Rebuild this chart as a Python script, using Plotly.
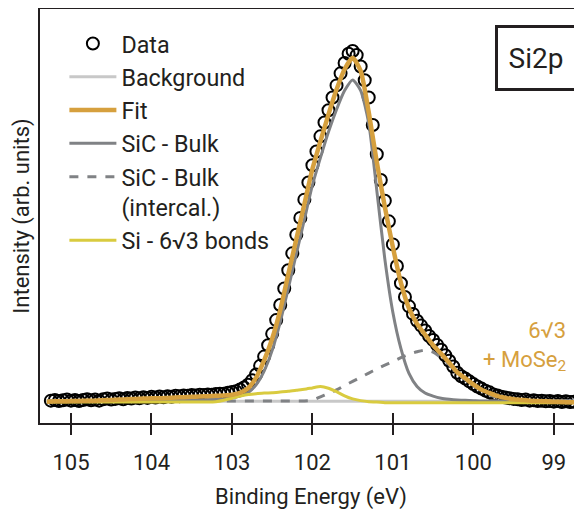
import plotly.graph_objects as go

# ---------------- data ----------------
# measured Si2p spectrum (binding energy in eV, intensity in arb. units)
data_energy = [
    105.25, 105.20, 105.15, 105.10, 105.05, 105.00, 104.95, 104.90, 104.85, 104.80,
    104.75, 104.70, 104.65, 104.60, 104.55, 104.50, 104.45, 104.40, 104.35, 104.30,
    104.25, 104.20, 104.15, 104.10, 104.05, 104.00, 103.95, 103.90, 103.85, 103.80,
    103.75, 103.70, 103.65, 103.60, 103.55, 103.50, 103.45, 103.40, 103.35, 103.30,
    103.25, 103.20, 103.15, 103.10, 103.05, 103.00, 102.95, 102.90, 102.85, 102.80,
    102.75, 102.70, 102.65, 102.60, 102.55, 102.50, 102.45, 102.40, 102.35, 102.30,
    102.25, 102.20, 102.15, 102.10, 102.05, 102.00, 101.95, 101.90, 101.85, 101.80,
    101.75, 101.70, 101.65, 101.60, 101.55, 101.50, 101.45, 101.40, 101.35, 101.30,
    101.25, 101.20, 101.15, 101.10, 101.05, 101.00, 100.95, 100.90, 100.85, 100.80,
    100.75, 100.70, 100.65, 100.60, 100.55, 100.50, 100.45, 100.40, 100.35, 100.30,
    100.25, 100.20, 100.15, 100.10, 100.05, 100.00, 99.95, 99.90, 99.85, 99.80,
    99.75, 99.70, 99.65, 99.60, 99.55, 99.50, 99.45, 99.40, 99.35, 99.30,
    99.25, 99.20, 99.15, 99.10, 99.05, 99.00, 98.95, 98.90, 98.85, 98.80,
    98.75,
]
data_intensity = [
    0.004, 0.006, 0.003, 0.005, 0.007, 0.004, 0.006, 0.003, 0.006, 0.008,
    0.005, 0.007, 0.004, 0.008, 0.010, 0.007, 0.009, 0.011, 0.008, 0.012,
    0.010, 0.013, 0.011, 0.014, 0.012, 0.015, 0.013, 0.016, 0.014, 0.017,
    0.015, 0.018, 0.017, 0.019, 0.018, 0.020, 0.019, 0.021, 0.020, 0.022,
    0.021, 0.023, 0.024, 0.024, 0.027, 0.029, 0.031, 0.036, 0.042, 0.050,
    0.063, 0.080, 0.105, 0.132, 0.165, 0.198, 0.238, 0.282, 0.330, 0.383,
    0.432, 0.486, 0.535, 0.588, 0.638, 0.688, 0.728, 0.772, 0.812, 0.848,
    0.885, 0.920, 0.955, 0.985, 1.012, 1.020, 1.008, 0.975, 0.935, 0.885,
    0.805, 0.720, 0.645, 0.585, 0.525, 0.458, 0.395, 0.345, 0.305, 0.278,
    0.256, 0.236, 0.222, 0.208, 0.192, 0.180, 0.166, 0.152, 0.136, 0.120,
    0.103, 0.085, 0.075, 0.068, 0.060, 0.052, 0.045, 0.039, 0.033, 0.028,
    0.022, 0.019, 0.015, 0.013, 0.011, 0.009, 0.008, 0.006, 0.007, 0.004,
    0.005, 0.003, 0.004, 0.002, 0.003, 0.001, 0.003, 0.000, 0.002, 0.000,
    0.001,
]

# fitted curves, on a 0.1 eV grid
model_energy = [
    105.3, 105.2, 105.1, 105.0, 104.9, 104.8, 104.7, 104.6, 104.5, 104.4,
    104.3, 104.2, 104.1, 104.0, 103.9, 103.8, 103.7, 103.6, 103.5, 103.4,
    103.3, 103.2, 103.1, 103.0, 102.9, 102.8, 102.7, 102.6, 102.5, 102.4,
    102.3, 102.2, 102.1, 102.0, 101.9, 101.8, 101.7, 101.6, 101.5, 101.4,
    101.3, 101.2, 101.1, 101.0, 100.9, 100.8, 100.7, 100.6, 100.5, 100.4,
    100.3, 100.2, 100.1, 100.0, 99.9, 99.8, 99.7, 99.6, 99.5, 99.4,
    99.3, 99.2, 99.1, 99.0, 98.9, 98.8, 98.7,
]
fit_total = [
    0.001, 0.002, 0.002, 0.003, 0.003, 0.004, 0.004, 0.005, 0.006, 0.007,
    0.008, 0.009, 0.010, 0.011, 0.011, 0.012, 0.013, 0.014, 0.015, 0.016,
    0.017, 0.018, 0.019, 0.021, 0.027, 0.040, 0.071, 0.121, 0.184, 0.267,
    0.371, 0.473, 0.575, 0.677, 0.758, 0.836, 0.908, 0.967, 1.000, 0.962,
    0.842, 0.697, 0.567, 0.450, 0.346, 0.272, 0.227, 0.196, 0.165, 0.140,
    0.114, 0.086, 0.069, 0.051, 0.036, 0.026, 0.017, 0.012, 0.008, 0.006,
    0.004, 0.003, 0.002, 0.001, 0.000, -0.001, -0.001,
]
sic_bulk = [
    0.003, 0.003, 0.003, 0.003, 0.003, 0.003, 0.003, 0.003, 0.004, 0.004,
    0.004, 0.004, 0.004, 0.005, 0.005, 0.005, 0.005, 0.006, 0.006, 0.006,
    0.007, 0.007, 0.009, 0.012, 0.017, 0.027, 0.050, 0.090, 0.150, 0.232,
    0.330, 0.430, 0.530, 0.630, 0.710, 0.785, 0.850, 0.905, 0.936, 0.905,
    0.810, 0.615, 0.415, 0.260, 0.155, 0.083, 0.045, 0.026, 0.017, 0.011,
    0.008, 0.006, 0.005, 0.004, 0.003, 0.003, 0.003, 0.003, 0.003, 0.003,
    0.003, 0.003, 0.003, 0.003, 0.003, 0.003, 0.003,
]
sic_bulk_intercal = [
    0.003, 0.003, 0.003, 0.003, 0.003, 0.003, 0.003, 0.003, 0.003, 0.003,
    0.003, 0.003, 0.003, 0.003, 0.003, 0.003, 0.003, 0.003, 0.003, 0.003,
    0.003, 0.003, 0.003, 0.003, 0.003, 0.003, 0.003, 0.003, 0.003, 0.003,
    0.003, 0.003, 0.003, 0.005, 0.015, 0.025, 0.035, 0.048, 0.060, 0.072,
    0.084, 0.096, 0.107, 0.118, 0.129, 0.139, 0.146, 0.151, 0.145, 0.129,
    0.108, 0.085, 0.064, 0.047, 0.033, 0.021, 0.013, 0.007, 0.004, 0.003,
    0.003, 0.003, 0.003, 0.003, 0.003, 0.003, 0.003,
]
si_6r3_bonds = [
    0.000, 0.000, 0.000, 0.000, 0.000, 0.000, 0.000, 0.000, 0.000, 0.000,
    0.000, 0.000, 0.000, 0.000, 0.000, 0.000, 0.000, 0.000, 0.000, 0.000,
    0.000, 0.001, 0.005, 0.011, 0.017, 0.022, 0.024, 0.026, 0.027, 0.029,
    0.031, 0.034, 0.037, 0.041, 0.045, 0.040, 0.030, 0.018, 0.009, 0.004,
    0.001, 0.000, -0.002, -0.002, -0.002, -0.002, -0.002, -0.002, -0.002, -0.002,
    -0.002, -0.002, -0.002, -0.002, -0.002, -0.002, -0.002, -0.002, -0.002, -0.002,
    -0.002, -0.002, -0.002, -0.002, -0.002, -0.002, -0.002,
]
background_energy = [105.3, 103.0, 101.5, 100.0, 98.7]
background = [0.002, 0.002, 0.002, 0.002, 0.002]

tick_values = [105, 104, 103, 102, 101, 100, 99]
tick_labels = ["105", "104", "103", "102", "101", "100", "99"]

x_range = [105.385, 98.65]
y_range = [-0.061, 1.142]

# ---------------- styles ----------------
FONT = "Roboto, 'Noto Sans', sans-serif"
INK = "#231F20"
C_BG = "#C8C8C8"
C_FIT = "#D6A03E"
C_SIC = "#808285"
C_SI = "#D9CB3F"
GOLD = "#D6A03E"

fig = go.Figure()

fig.add_trace(go.Scatter(
    x=data_energy, y=data_intensity, mode="markers", name="Data",
    marker=dict(symbol="circle-open", size=12, color="black",
                line=dict(width=2, color="black")),
    legendrank=1,
))
fig.add_trace(go.Scatter(
    x=background_energy, y=background, mode="lines", name="Background",
    line=dict(color=C_BG, width=3), legendrank=2,
))
fig.add_trace(go.Scatter(
    x=model_energy, y=sic_bulk, mode="lines", name="SiC - Bulk",
    line=dict(color=C_SIC, width=3, shape="spline", smoothing=0.6), legendrank=4,
))
fig.add_trace(go.Scatter(
    x=model_energy, y=sic_bulk_intercal, mode="lines", name="SiC - Bulk<br>(intercal.)",
    line=dict(color=C_SIC, width=3, dash="9px,9px", shape="spline", smoothing=0.6),
    legendrank=5,
))
fig.add_trace(go.Scatter(
    x=model_energy, y=si_6r3_bonds, mode="lines", name="Si - 6\u221a3 bonds",
    line=dict(color=C_SI, width=3, shape="spline", smoothing=0.6), legendrank=6,
))
fig.add_trace(go.Scatter(
    x=model_energy, y=fit_total, mode="lines", name="Fit",
    line=dict(color=C_FIT, width=4.5, shape="spline", smoothing=0.6), legendrank=3,
))
# helper trace so the overlaid axis (inward half of the ticks) is drawn
fig.add_trace(go.Scatter(
    x=tick_values, y=[None] * len(tick_values), xaxis="x2", mode="markers",
    showlegend=False, hoverinfo="skip",
))

# the page body adds an 8 px offset, so the figure is 8 px smaller and margins shifted
fig.update_layout(
    width=574, height=502,
    margin=dict(l=32, r=0, t=1, b=87, autoexpand=False),
    paper_bgcolor="white", plot_bgcolor="white",
    font=dict(family=FONT, size=22, color=INK),
    showlegend=True,
    legend=dict(
        x=0.045, y=0.969, xanchor="left", yanchor="top",
        bgcolor="rgba(0,0,0,0)", font=dict(family=FONT, size=23.3, color=INK),
        valign="top", tracegroupgap=0, itemwidth=47,
    ),
    xaxis=dict(
        range=x_range, tickvals=tick_values, ticktext=tick_labels,
        ticks="outside", ticklen=10, tickwidth=2, tickcolor=INK,
        showline=True, linewidth=2, linecolor=INK, mirror=True,
        showgrid=False, zeroline=False, ticklabelstandoff=9, automargin=False,
        tickfont=dict(family=FONT, size=22, color=INK),
        title=dict(text="Binding Energy (eV)", standoff=21,
                   font=dict(family=FONT, size=22, color=INK)),
    ),
    xaxis2=dict(
        range=x_range, overlaying="x", anchor="y", side="bottom",
        tickvals=tick_values, ticks="inside", ticklen=10, tickwidth=2,
        tickcolor=INK, showticklabels=False, showline=False,
        showgrid=False, zeroline=False, automargin=False,
    ),
    yaxis=dict(
        range=y_range, showticklabels=False, ticks="",
        showline=True, linewidth=2, linecolor=INK,
        showgrid=False, zeroline=False, automargin=False,
        title=dict(text="Intensity (arb. units)", standoff=2,
                   font=dict(family=FONT, size=22, color=INK)),
    ),
    annotations=[
        dict(text="Si2p", xref="paper", yref="paper", x=0.915, y=0.882,
             xanchor="center", yanchor="middle", showarrow=False,
             font=dict(family=FONT, size=28, color=INK),
             bordercolor=INK, borderwidth=3, borderpad=2, width=72, height=56,
             bgcolor="white"),
        dict(text="6\u221a3<br>+ MoSe<sub>2</sub>", xref="paper", yref="paper",
             x=0.974, y=0.185, xanchor="right", yanchor="middle", align="right",
             showarrow=False, font=dict(family=FONT, size=22, color=GOLD)),
    ],
)

fig.write_html("out.html")
